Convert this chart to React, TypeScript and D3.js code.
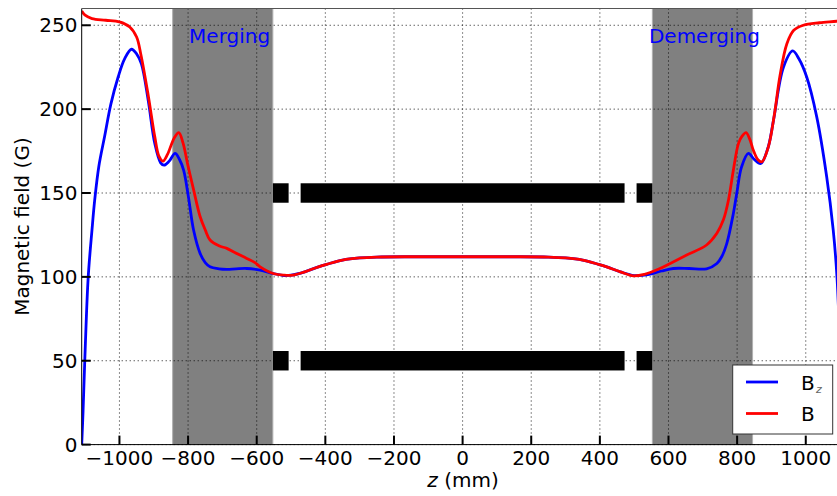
import {
  select,
  scaleLinear,
  line,
  curveCatmullRom
} from "d3";

import {
  useEffect,
  useRef
} from "react"

// field profiles, z in mm, field in G
const zBz = [-1110, -1106, -1100, -1091, -1080, -1072, -1060, -1043, -1025, -1004, -985, -965, -950, -936, -916, -897, -880, -870, -855, -838, -825, -813, -799, -784, -765, -750, -736, -710, -687, -660, -629, -590, -551, -520, -500, -460, -420, -396, -350, -300, -250, -150, 0, 150, 250, 300, 350, 396, 420, 460, 500, 540, 580, 614, 660, 711, 741, 755, 770, 789, 799, 813, 833, 850, 869, 890, 906, 935, 962, 980, 1003, 1032, 1061, 1080, 1091, 1100, 1106, 1110];
const bzValues = [0, 20, 56, 100, 128, 146, 166, 184, 203, 219, 230, 235.7, 233, 227, 205, 179.5, 168, 166.6, 169, 173.6, 170, 163.6, 147.7, 127.9, 114, 108.5, 106, 104.8, 104.5, 104.8, 105, 104, 102, 100.8, 101, 103, 106, 107.5, 110, 111.3, 111.8, 112, 112, 112, 111.8, 111.3, 110, 107.5, 106, 103, 100.8, 101.3, 103.5, 105, 105, 104.8, 108, 112, 120, 137.8, 149.8, 165.6, 173.6, 170, 167.6, 177, 193.4, 225, 234.7, 230, 219, 195.4, 159.7, 128, 100, 56, 20, 0];

const zB = [-1110, -1100, -1080, -1040, -1000, -970, -950, -937, -916, -897, -885, -873, -860, -840, -827, -815, -800, -784, -765, -750, -736, -710, -687, -664, -629, -605, -590, -552, -520, -495, -460, -420, -396, -350, -300, -250, -150, 0, 150, 250, 300, 350, 396, 420, 460, 498, 530, 570, 605, 653, 711, 741, 760, 775, 789, 804, 815, 826, 837, 847, 860, 872, 891, 908, 925, 945, 965, 993, 1040, 1090, 1110];
const bValues = [258.5, 256, 254, 253, 252, 249, 243, 232, 208, 183.5, 172, 169, 173, 183, 186, 180, 166, 152, 136, 128, 122, 118.5, 117, 114.5, 111, 108.5, 106, 102, 101, 101, 103, 106, 107.5, 110, 111.3, 111.8, 112, 112, 112, 111.8, 111.3, 110, 107.5, 106, 103, 100.6, 101.5, 104.5, 108, 113, 119, 126, 134, 146, 163.6, 179.6, 184, 186, 182, 175.6, 170, 168.6, 177.5, 196, 220, 239, 247, 250, 251.5, 252.4, 253];

const xTicks = [-1000, -800, -600, -400, -200, 0, 200, 400, 600, 800, 1000];
const yTicks = [0, 50, 100, 150, 200, 250];

// shaded merging / demerging regions
const bands = [[-845, -553], [553, 845]];
const bandLabels = ["Merging", "Demerging"];
const bandLabelStart = [-797, 543];

// coil blocks
const coilSegments = [[-553, -507], [-472, 472], [507, 553]];
const coilLevels = [150, 50];
const coilHalf = 5.8;

export default function App() {

  const d3Container = useRef(null);

  const width = 837, height = 496;
  const margin = {top: 8.5, left: 81.7, right: 843.5, bottom: 444.6};
  const font = "'DejaVu Sans', sans-serif";

  useEffect(
    () => {
      if (!d3Container.current) return;

      const svg = select(d3Container.current);
      svg.selectAll("*").remove();

      var x = scaleLinear()
        .domain([-1110, 1110])
        .range([margin.left, margin.right]);
      var y = scaleLinear()
        .domain([0, 260])
        .range([margin.bottom, margin.top]);

      svg.append("defs").append("clipPath")
        .attr("id", "plotclip")
        .append("rect")
          .attr("x", margin.left)
          .attr("y", margin.top)
          .attr("width", margin.right - margin.left)
          .attr("height", margin.bottom - margin.top);

      svg.append("rect")
        .attr("width", width).attr("height", height)
        .attr("fill", "#fff");

      // grey bands
      svg.append("g")
        .selectAll("rect")
        .data(bands)
        .enter()
        .append("rect")
          .attr("x", d => x(d[0]))
          .attr("width", d => x(d[1]) - x(d[0]))
          .attr("y", margin.top)
          .attr("height", margin.bottom - margin.top)
          .attr("fill", "#808080")
          .attr("stroke", "#b0b0b0")
          .attr("stroke-width", 1);

      // grid
      const grid = svg.append("g")
        .attr("stroke", "#000")
        .attr("stroke-width", 0.9)
        .attr("stroke-dasharray", "1,3");
      xTicks.forEach(t => {
        grid.append("line")
          .attr("x1", x(t)).attr("x2", x(t))
          .attr("y1", margin.top).attr("y2", margin.bottom);
      });
      yTicks.forEach(t => {
        grid.append("line")
          .attr("x1", margin.left).attr("x2", margin.right)
          .attr("y1", y(t)).attr("y2", y(t));
      });

      // coils
      const coils = svg.append("g").attr("fill", "#000");
      coilLevels.forEach(lv => {
        coilSegments.forEach(s => {
          coils.append("rect")
            .attr("x", x(s[0]))
            .attr("width", x(s[1]) - x(s[0]))
            .attr("y", y(lv + coilHalf))
            .attr("height", y(lv - coilHalf) - y(lv + coilHalf));
        });
      });

      // band labels
      bandLabels.forEach((t, i) => {
        svg.append("text")
          .attr("x", x(bandLabelStart[i]))
          .attr("y", 42.5)
          .attr("fill", "#0000ff")
          .attr("font-family", font)
          .attr("font-size", 20)
          .text(t);
      });

      // curves
      const curves = svg.append("g").attr("clip-path", "url(#plotclip)");
      const bzLine = line<number>()
        .x((d, i) => x(zBz[i]))
        .y(d => y(d))
        .curve(curveCatmullRom.alpha(0.5));
      const bLine = line<number>()
        .x((d, i) => x(zB[i]))
        .y(d => y(d))
        .curve(curveCatmullRom.alpha(0.5));
      curves.append("path")
        .attr("d", bzLine(bzValues))
        .attr("fill", "none")
        .attr("stroke", "#0000ff")
        .attr("stroke-width", 2.8);
      curves.append("path")
        .attr("d", bLine(bValues))
        .attr("fill", "none")
        .attr("stroke", "#ff0000")
        .attr("stroke-width", 2.8);

      // spines
      svg.append("line")
        .attr("x1", margin.left).attr("x2", margin.left)
        .attr("y1", margin.top).attr("y2", margin.bottom)
        .attr("stroke", "#000").attr("stroke-width", 1);
      svg.append("line")
        .attr("x1", margin.left).attr("x2", margin.right)
        .attr("y1", margin.bottom).attr("y2", margin.bottom)
        .attr("stroke", "#000").attr("stroke-width", 1);
      svg.append("line")
        .attr("x1", margin.left).attr("x2", margin.right)
        .attr("y1", margin.top).attr("y2", margin.top)
        .attr("stroke", "#555").attr("stroke-width", 1);

      // ticks + labels
      const fmt = (v: number) => (v < 0 ? "\u2212" + Math.abs(v) : String(v));
      xTicks.forEach(t => {
        svg.append("line")
          .attr("x1", x(t)).attr("x2", x(t))
          .attr("y1", margin.bottom).attr("y2", margin.bottom - 9)
          .attr("stroke", "#000").attr("stroke-width", 2);
        svg.append("text")
          .attr("x", x(t)).attr("y", 465)
          .attr("text-anchor", "middle")
          .attr("font-family", font).attr("font-size", 20)
          .text(fmt(t));
      });
      yTicks.forEach(t => {
        svg.append("line")
          .attr("x1", margin.left).attr("x2", margin.left + 9)
          .attr("y1", y(t)).attr("y2", y(t))
          .attr("stroke", "#000").attr("stroke-width", 2);
        svg.append("text")
          .attr("x", 77.5).attr("y", y(t) + 7)
          .attr("text-anchor", "end")
          .attr("font-family", font).attr("font-size", 20)
          .text(fmt(t));
      });

      // axis labels
      const xl = svg.append("text")
        .attr("x", 463).attr("y", 487)
        .attr("text-anchor", "middle")
        .attr("font-family", font).attr("font-size", 20);
      xl.append("tspan").attr("font-style", "italic").text("z");
      xl.append("tspan").text(" (mm)");

      svg.append("text")
        .attr("transform", `translate(29, ${(margin.top + margin.bottom) / 2}) rotate(-90)`)
        .attr("text-anchor", "middle")
        .attr("font-family", font).attr("font-size", 20)
        .text("Magnetic field (G)");

      // legend
      const lg = svg.append("g");
      lg.append("rect")
        .attr("x", 732.7).attr("y", 365)
        .attr("width", 100).attr("height", 69)
        .attr("fill", "#fff")
        .attr("stroke", "#333").attr("stroke-width", 1);
      lg.append("line")
        .attr("x1", 746).attr("x2", 778)
        .attr("y1", 382).attr("y2", 382)
        .attr("stroke", "#0000ff").attr("stroke-width", 2.8);
      lg.append("line")
        .attr("x1", 746).attr("x2", 778)
        .attr("y1", 413.5).attr("y2", 413.5)
        .attr("stroke", "#ff0000").attr("stroke-width", 2.8);
      lg.append("text")
        .attr("x", 801).attr("y", 389.5)
        .attr("font-family", font).attr("font-size", 20)
        .text("B");
      lg.append("text")
        .attr("x", 816).attr("y", 393)
        .attr("font-family", font).attr("font-size", 11)
        .attr("font-style", "italic")
        .attr("fill", "#666")
        .text("z");
      lg.append("text")
        .attr("x", 801).attr("y", 421)
        .attr("font-family", font).attr("font-size", 20)
        .text("B");
    },
    [])

  return (
    <svg
      className="d3-component"
      width={width}
      height={height}
      ref={d3Container}
      style={{position: "absolute", left: 0, top: 0}}
    />
  );
}
